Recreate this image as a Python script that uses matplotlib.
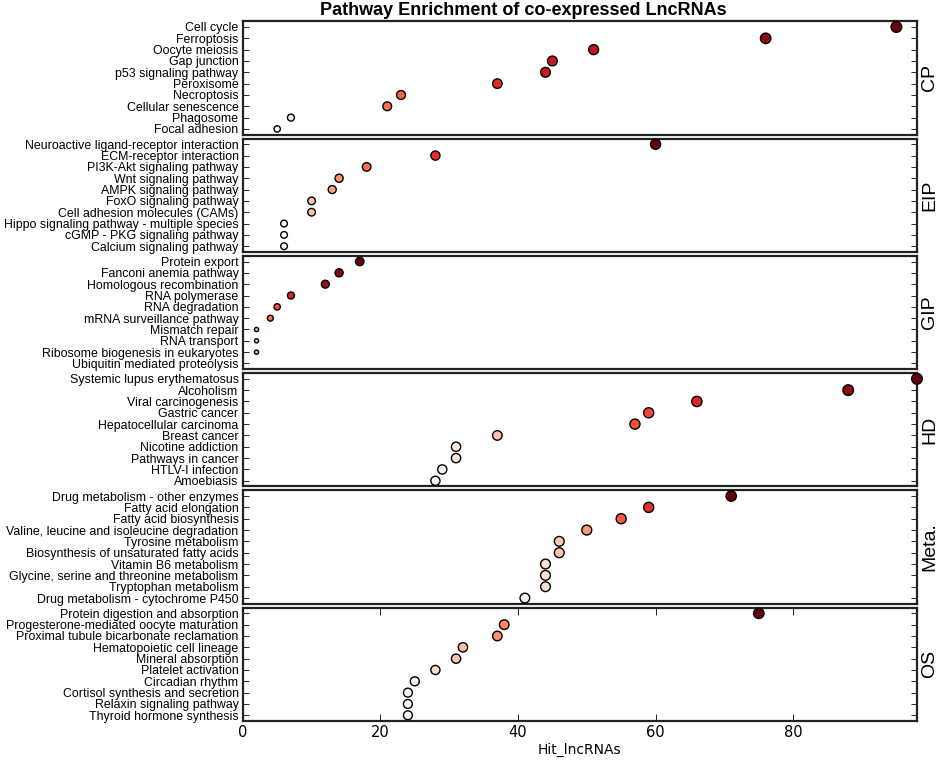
import numpy as np
import matplotlib
matplotlib.use("Agg")
import matplotlib.pyplot as plt

# pathway groups, top to bottom, each with 10 pathways (listed top row first)
groups = ["CP", "EIP", "GIP", "HD", "Meta.", "OS"]

cp_terms = ["Cell cycle", "Ferroptosis", "Oocyte meiosis", "Gap junction",
            "p53 signaling pathway", "Peroxisome", "Necroptosis",
            "Cellular senescence", "Phagosome", "Focal adhesion"]
cp_hits = [95, 76, 51, 45, 44, 37, 23, 21, 7, 5]

eip_terms = ["Neuroactive ligand-receptor interaction", "ECM-receptor interaction",
             "PI3K-Akt signaling pathway", "Wnt signaling pathway",
             "AMPK signaling pathway", "FoxO signaling pathway",
             "Cell adhesion molecules (CAMs)",
             "Hippo signaling pathway - multiple species",
             "cGMP - PKG signaling pathway", "Calcium signaling pathway"]
eip_hits = [60, 28, 18, 14, 13, 10, 10, 6, 6, 6]

gip_terms = ["Protein export", "Fanconi anemia pathway", "Homologous recombination",
             "RNA polymerase", "RNA degradation", "mRNA surveillance pathway",
             "Mismatch repair", "RNA transport", "Ribosome biogenesis in eukaryotes",
             "Ubiquitin mediated proteolysis"]
gip_hits = [17, 14, 12, 7, 5, 4, 2, 2, 2, 1]

hd_terms = ["Systemic lupus erythematosus", "Alcoholism", "Viral carcinogenesis",
            "Gastric cancer", "Hepatocellular carcinoma", "Breast cancer",
            "Nicotine addiction", "Pathways in cancer", "HTLV-I infection",
            "Amoebiasis"]
hd_hits = [98, 88, 66, 59, 57, 37, 31, 31, 29, 28]

meta_terms = ["Drug metabolism - other enzymes", "Fatty acid elongation",
              "Fatty acid biosynthesis",
              "Valine, leucine and isoleucine degradation",
              "Tyrosine metabolism", "Biosynthesis of unsaturated fatty acids",
              "Vitamin B6 metabolism", "Glycine, serine and threonine metabolism",
              "Tryptophan metabolism", "Drug metabolism - cytochrome P450"]
meta_hits = [71, 59, 55, 50, 46, 46, 44, 44, 44, 41]

os_terms = ["Protein digestion and absorption",
            "Progesterone-mediated oocyte maturation",
            "Proximal tubule bicarbonate reclamation",
            "Hematopoietic cell lineage", "Mineral absorption",
            "Platelet activation", "Circadian rhythm",
            "Cortisol synthesis and secretion", "Relaxin signaling pathway",
            "Thyroid hormone synthesis"]
os_hits = [75, 38, 37, 32, 31, 28, 25, 24, 24, 24]

all_terms = [cp_terms, eip_terms, gip_terms, hd_terms, meta_terms, os_terms]
all_hits = [cp_hits, eip_hits, gip_hits, hd_hits, meta_hits, os_hits]

xmax = max(max(h) for h in all_hits)

fig, axes = plt.subplots(6, 1, figsize=(9.41, 7.61), dpi=100, sharex=True)
fig.subplots_adjust(left=0.258, right=0.9745, top=0.972, bottom=0.0526, hspace=0.035)

for i, ax in enumerate(axes):
    terms = all_terms[i]
    hits = np.array(all_hits[i], dtype=float)
    logh = np.log(hits)
    ypos = np.arange(len(terms))
    ax.scatter(hits, ypos, s=13 * logh, c=logh, cmap="Reds",
               vmin=logh.min(), vmax=logh.max(),
               edgecolors="black", linewidths=1.0, zorder=3, clip_on=False)
    ax.set_ylim(len(terms) - 0.5, -0.5)
    ax.set_yticks(ypos)
    ax.set_yticklabels(terms, fontsize=8.9, family="Liberation Sans")
    ax.tick_params(axis="y", direction="in", left=True, right=True,
                   length=4, width=0.6, pad=3)
    ax.set_xlim(0, xmax)
    for sp in ax.spines.values():
        sp.set_linewidth(1.6)
        sp.set_color("#222222")
    ax.text(1.006, 0.5, groups[i], transform=ax.transAxes, rotation=90,
            va="center", ha="left", fontsize=14, family="Liberation Sans")
    if i < len(axes) - 1:
        ax.tick_params(axis="x", bottom=False, top=False, labelbottom=False)
    else:
        ax.set_xticks([0, 20, 40, 60, 80])
        ax.tick_params(axis="x", direction="in", bottom=True, top=True,
                       length=5, width=0.6, labelsize=10.5, pad=3)
        ax.set_xlabel("Hit_lncRNAs", fontsize=10, labelpad=2)

fig.text(0.556, 0.986, "Pathway Enrichment of co-expressed LncRNAs",
         ha="center", va="center", fontsize=13, fontweight="bold",
         family="Liberation Sans")

fig.savefig("out.png", dpi=100)
